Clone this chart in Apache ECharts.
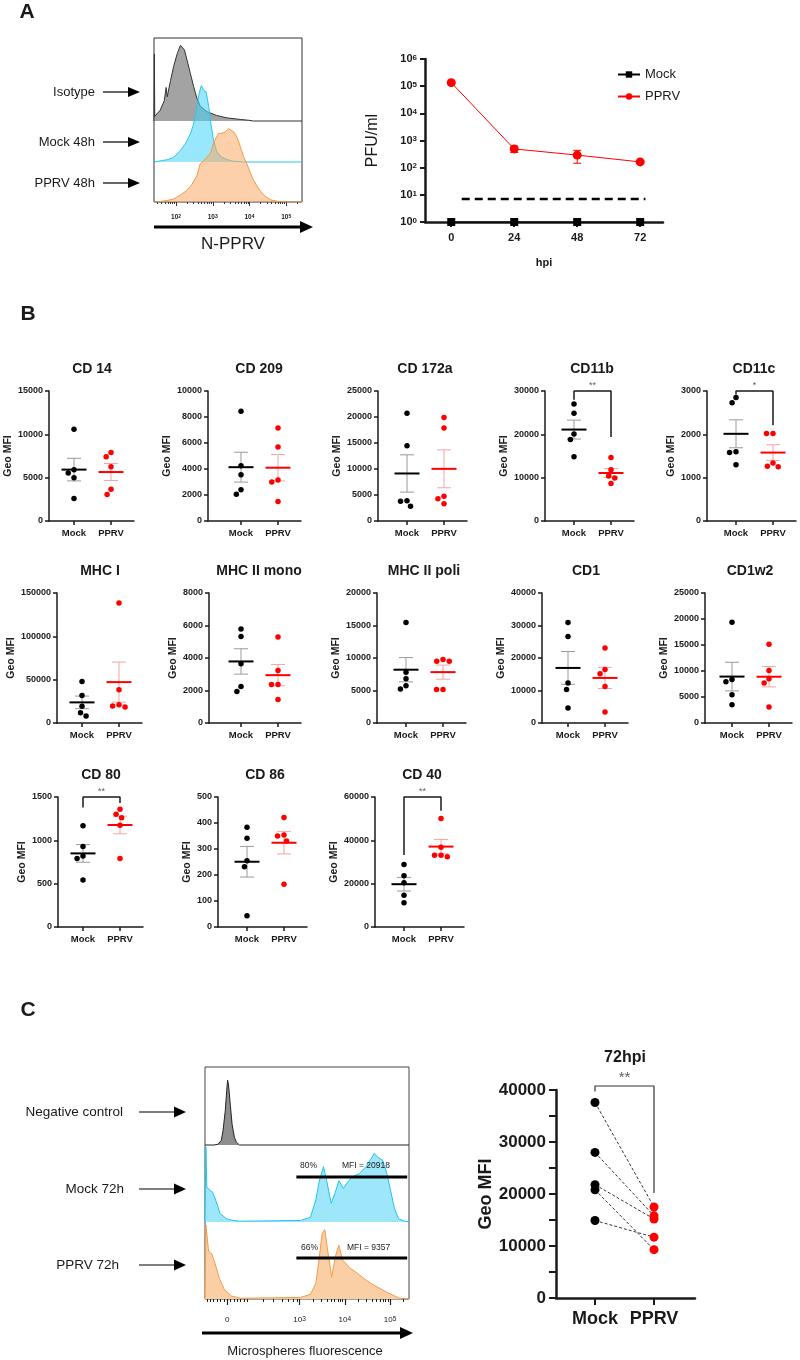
<!DOCTYPE html>
<html lang="en">
<head>
<meta charset="UTF-8">
<title>PPRV figure</title>
<style>
  * { margin: 0; padding: 0; }
  body { background: #fff; }
  #chart { width: 800px; height: 1360px; }
</style>
</head>
<body>
<div id="chart"></div>
<script src="https://cdn.jsdelivr.net/npm/echarts@6/dist/echarts.min.js"></script>
<script>
var FONT = '"Liberation Sans", Arial, sans-serif';

// ---- A left: N-PPRV histograms, [log10 fluorescence, % of mode]
var aHistLabels = ['Isotype', 'Mock 48h', 'PPRV 48h'];
var isotypeHist = [[1.40,0],[1.41,86],[1.42,6],[1.44,7],[1.57,14],[1.68,26],[1.73,43],[1.76,31],[1.85,52],[1.94,71],[2.03,86],[2.12,97],[2.16,99],[2.23,91],[2.30,78],[2.39,61],[2.48,44],[2.57,29],[2.66,19],[2.84,12],[3.11,7],[3.39,4],[3.75,2],[3.97,1],[4.11,0],[5.43,0]];
var mock48Hist = [[1.40,0],[1.42,1],[1.76,3],[1.94,6],[2.12,15],[2.25,23],[2.39,36],[2.48,49],[2.57,71],[2.63,88],[2.69,98],[2.75,92],[2.82,90],[2.89,71],[2.95,49],[3.02,28],[3.11,13],[3.25,6],[3.39,3],[3.57,1],[3.84,0],[5.43,0]];
var pprv48Hist = [[1.40,0],[1.48,0],[1.76,2],[1.94,4],[2.12,9],[2.30,15],[2.44,23],[2.57,34],[2.66,49],[2.75,53],[2.89,60],[2.95,64],[3.02,75],[3.10,83],[3.16,88],[3.25,88],[3.34,90],[3.43,94],[3.50,92],[3.57,90],[3.66,83],[3.75,71],[3.84,58],[3.93,49],[4.02,38],[4.11,28],[4.25,17],[4.38,9],[4.56,3],[4.75,1],[4.92,0],[5.43,0]];

// ---- A right: virus titre
var hpi = [0, 24, 48, 72];
var pfuMock = [1, 1, 1, 1];
var pfuPPRV = [135000, 490, 290, 163];
var pfuPPRVsem = [8000, 130, 145, 15];
var detectionLimit = 7;

// ---- B: surface markers, Geo MFI
var groups = ['Mock', 'PPRV'];
var markers = ['CD 14', 'CD 209', 'CD 172a', 'CD11b', 'CD11c', 'MHC I', 'MHC II mono', 'MHC II poli', 'CD1', 'CD1w2', 'CD 80', 'CD 86', 'CD 40'];
var markerMax = [15000, 10000, 25000, 30000, 3000, 150000, 8000, 20000, 40000, 25000, 1500, 500, 60000];
var markerStep = [5000, 2000, 5000, 10000, 1000, 50000, 2000, 5000, 10000, 5000, 500, 100, 20000];
var mockMFI = [
  [10600, 5900, 5550, 5000, 2600],
  [8450, 4250, 3550, 2400, 2050],
  [20700, 14450, 3900, 3800, 2850],
  [27000, 24850, 20050, 18800, 14800],
  [2850, 2730, 1600, 1580, 1300],
  [48000, 31800, 19200, 11900, 8050],
  [5790, 5320, 3640, 2250, 1940],
  [15450, 7800, 6800, 5730, 5220],
  [30900, 26600, 12280, 10330, 4600],
  [19370, 8380, 7930, 5430, 3520],
  [1168, 928, 820, 789, 541],
  [384, 341, 255, 232, 43],
  [28900, 23650, 20400, 14700, 11150]
];
var pprvMFI = [
  [7900, 7400, 6250, 3650, 3050],
  [7150, 5700, 3150, 3000, 1500],
  [19900, 17900, 4750, 4300, 3300],
  [14650, 11800, 10400, 9900, 8650],
  [2020, 2020, 1340, 1265, 1250],
  [138500, 38350, 21100, 19550, 18400],
  [5300, 3230, 2370, 2370, 1450],
  [9770, 9510, 9510, 5170, 5170],
  [23100, 16450, 15150, 11250, 3380],
  [15150, 10100, 8500, 7670, 3070],
  [1360, 1300, 1260, 1175, 789],
  [421, 354, 350, 331, 164],
  [50100, 36800, 33100, 33100, 32450]
];
var sigStars = ['', '', '', '**', '*', '', '', '', '', '', '**', '', '**'];
// bracket leg ends [mock side, pprv side]; the bracket top sits at the axis max
var sigLegs = [null, null, null, [28000, 19400], [2920, 2210], null, null, null, null, null, [1380, 1430], null, [33250, 53650]];

// ---- C left: microsphere uptake histograms
var cHistLabels = ['Negative control', 'Mock 72h', 'PPRV 72h'];
var negHist = [[0.91,0],[1.11,0],[1.20,1],[1.27,6],[1.31,19],[1.36,45],[1.39,70],[1.41,83],[1.43,77],[1.47,51],[1.51,26],[1.56,10],[1.60,4],[1.67,0],[5.42,0]];
var mock72Hist = [[0.91,0],[0.93,96],[0.95,45],[1.01,41],[1.08,38],[1.16,26],[1.24,11],[1.39,4],[1.54,2],[1.69,1],[3.02,2],[3.24,6],[3.36,28],[3.43,51],[3.53,71],[3.60,53],[3.70,24],[3.79,38],[3.87,53],[3.97,43],[4.06,51],[4.17,58],[4.32,62],[4.47,71],[4.58,81],[4.65,88],[4.73,83],[4.84,79],[4.93,62],[5.01,41],[5.10,17],[5.19,4],[5.32,1],[5.42,0]];
var pprv72Hist = [[0.91,0],[0.93,95],[0.99,61],[1.06,58],[1.13,46],[1.23,26],[1.34,12],[1.49,4],[1.69,1],[3.02,2],[3.24,6],[3.36,20],[3.43,50],[3.50,84],[3.56,89],[3.60,71],[3.71,28],[3.79,54],[3.87,69],[3.95,50],[3.99,48],[4.13,39],[4.28,33],[4.43,26],[4.58,20],[4.73,15],[4.95,8],[5.10,4],[5.21,1],[5.42,0]];
var gateRange = [2.93, 5.38];
var gatePercent = ['80%', '66%'];
var gateMFI = [20918, 9357];

// ---- C right: paired Geo MFI at 72 hpi
var pairedMock = [37600, 28000, 21800, 20800, 14900];
var pairedPPRV = [17500, 15800, 15200, 9300, 11700];
var pairedStars = '**';
var pairedLegs = [39700, 20200];

// ------------------------------------------------------------------
var chart = echarts.init(document.getElementById('chart'));
var grids = [], xAxes = [], yAxes = [], series = [], gfx = [];
var INK = '#1a1a1a';

function mean(a) { var s = 0; a.forEach(function (v) { s += v; }); return s / a.length; }
function sem(a) {
  var m = mean(a), s = 0;
  a.forEach(function (v) { s += (v - m) * (v - m); });
  return Math.sqrt(s / (a.length - 1)) / Math.sqrt(a.length);
}
function plain(v) { return String(v); }
// beeswarm: push overlapping dots sideways (offsets in group units, 37px per unit)
function swarm(vals, max) {
  var d = 6.5, pxPer = 130 / max, placed = [], off = [];
  var order = vals.map(function (v, i) { return i; }).sort(function (a, b) { return vals[b] - vals[a]; });
  order.forEach(function (id) {
    var y = vals[id] * pxPer, bans = [];
    placed.forEach(function (p) {
      var dy = Math.abs(p.y - y);
      if (dy < d) { var w = Math.sqrt(d * d - dy * dy); bans.push([p.x - w, p.x + w]); }
    });
    var cands = [0];
    bans.forEach(function (b) { cands.push(b[0], b[1]); });
    cands.sort(function (a, b) { return Math.abs(a) - Math.abs(b) || a - b; });
    var x = 0;
    for (var c = 0; c < cands.length; c++) {
      var ok = bans.every(function (b) { return cands[c] <= b[0] + 1e-6 || cands[c] >= b[1] - 1e-6; });
      if (ok) { x = cands[c]; break; }
    }
    placed.push({ x: x, y: y });
    off[id] = x / 37;
  });
  return off;
}
function errSeries(xi, yi, x, m, s, meanColor, semColor, meanHalf, capHalf) {
  return {
    type: 'custom', xAxisIndex: xi, yAxisIndex: yi, clip: false, z: 2, silent: true,
    data: [[x, m, s]],
    renderItem: function (params, api) {
      var c = api.coord([api.value(0), api.value(1)]);
      var hi = api.coord([api.value(0), api.value(1) + api.value(2)]);
      var lo = api.coord([api.value(0), api.value(1) - api.value(2)]);
      var st = { stroke: semColor, lineWidth: 1 };
      var kids = [
        { type: 'line', shape: { x1: c[0], y1: hi[1], x2: c[0], y2: lo[1] }, style: st },
        { type: 'line', shape: { x1: c[0] - capHalf, y1: hi[1], x2: c[0] + capHalf, y2: hi[1] }, style: st },
        { type: 'line', shape: { x1: c[0] - capHalf, y1: lo[1], x2: c[0] + capHalf, y2: lo[1] }, style: st }
      ];
      if (meanHalf > 0) kids.push({ type: 'line', shape: { x1: c[0] - meanHalf, y1: c[1], x2: c[0] + meanHalf, y2: c[1] }, style: { stroke: meanColor, lineWidth: 2 } });
      return { type: 'group', children: kids };
    }
  };
}
function supLabel(base, sup) {
  return {
    b: { fontSize: base, fontWeight: 'bold', color: INK, fontFamily: FONT },
    s: { fontSize: sup, fontWeight: 'bold', color: INK, fontFamily: FONT, verticalAlign: 'top' }
  };
}
function text(x, y, str, size, opts) {
  opts = opts || {};
  gfx.push({
    type: 'text', x: x, y: y, z: 100, silent: true,
    style: { text: str, fontSize: size, fontFamily: FONT, fontWeight: opts.bold ? 'bold' : 'normal',
      fill: opts.color || INK, align: opts.align || 'center', verticalAlign: 'middle' }
  });
}
function arrow(x1, x2, y, w, headLen, headHalf) {
  gfx.push({ type: 'line', silent: true, z: 100, shape: { x1: x1, y1: y, x2: x2 - headLen + 1, y2: y }, style: { stroke: '#000', lineWidth: w } });
  gfx.push({ type: 'polygon', silent: true, z: 100, shape: { points: [[x2 - headLen, y - headHalf], [x2, y], [x2 - headLen, y + headHalf]] }, style: { fill: '#000' } });
}
function histSeries(xi, yi, data, base, line, fill, z) {
  return {
    type: 'line', xAxisIndex: xi, yAxisIndex: yi, symbol: 'none', silent: true, z: z,
    data: data.map(function (p) { return [p[0], base + p[1] * 0.78]; }),
    lineStyle: { color: line, width: 1 },
    areaStyle: { color: fill, origin: base, opacity: 1 }
  };
}

// ====================== A left: histogram ======================
var minorA = [];
for (var d = 1; d <= 5; d++) for (var k = 2; k <= 9; k++) {
  var u = Math.log10(k * Math.pow(10, d));
  if (u > 1.4 && u < 5.43) minorA.push(u);
}
grids.push({ left: 154, top: 38, width: 148, height: 164, show: true, borderColor: '#333', borderWidth: 1, outerBoundsMode: 'none' });
xAxes.push({
  gridIndex: 0, type: 'value', position: 'bottom', min: 1.4, max: 5.43, splitLine: { show: false }, axisLine: { show: false },
  axisTick: { show: true, customValues: [2, 3, 4, 5], length: 4, lineStyle: { color: '#333' } },
  axisLabel: { customValues: [2, 3, 4, 5], margin: 12, formatter: function (v) { return '{b|10}{s|' + v + '}'; }, rich: supLabel(6.5, 5) }
});
xAxes.push({
  gridIndex: 0, type: 'value', position: 'bottom', min: 1.4, max: 5.43, splitLine: { show: false }, axisLine: { show: false },
  axisTick: { show: true, customValues: minorA, length: 2, lineStyle: { color: '#333' } }, axisLabel: { show: false }
});
yAxes.push({ gridIndex: 0, type: 'value', min: 0, max: 164, show: false });
series.push(histSeries(0, 0, isotypeHist, 81, '#333', '#a3a3a3', 2));
series.push(histSeries(0, 0, mock48Hist, 40, '#2cc6ef', 'rgba(70,212,246,0.55)', 3));
series.push(histSeries(0, 0, pprv48Hist, 0, '#f49a45', 'rgba(250,170,100,0.55)', 4));
[92, 142, 183].forEach(function (y, i) {
  text(95, y, aHistLabels[i], 13, { align: 'right' });
  arrow(103, 140, y, 1.2, 12, 5);
});
arrow(154, 313, 227, 3, 13, 6);
text(233, 244, 'N-PPRV', 17);

// ====================== A right: PFU/ml ======================
grids.push({ left: 425, top: 59, width: 238, height: 163, outerBoundsMode: 'none' });
xAxes.push({
  gridIndex: 1, type: 'value', min: -10, max: 80.7, splitLine: { show: false },
  axisLine: { onZero: false, lineStyle: { color: INK, width: 2.5 } },
  axisTick: { customValues: hpi, length: 5, lineStyle: { color: INK, width: 2 } },
  axisLabel: { customValues: hpi, margin: 10, fontSize: 11, fontWeight: 'bold', color: INK },
  name: 'hpi', nameLocation: 'middle', nameGap: 35, nameTextStyle: { fontSize: 11, fontWeight: 'bold', color: INK }
});
var decades = [1, 10, 100, 1000, 10000, 100000, 1000000];
yAxes.push({
  gridIndex: 1, type: 'log', logBase: 10, min: 1, max: 1000000, splitLine: { show: false },
  axisLine: { show: true, onZero: false, lineStyle: { color: INK, width: 2.5 } },
  axisTick: { show: true, customValues: decades, length: 5, lineStyle: { color: INK, width: 2 } },
  axisLabel: { customValues: decades, margin: 8, formatter: function (v) { return '{b|10}{s|' + Math.round(Math.log10(v)) + '}'; }, rich: supLabel(11, 8) },
  name: 'PFU/ml', nameLocation: 'middle', nameGap: 44, nameTextStyle: { fontSize: 16, color: INK }
});
series.push({
  name: 'Mock', type: 'line', xAxisIndex: 2, yAxisIndex: 1, clip: false, z: 4,
  data: hpi.map(function (h, i) { return [h, pfuMock[i]]; }),
  symbol: 'rect', symbolSize: 8, itemStyle: { color: '#000' }, lineStyle: { color: '#000', width: 1 }
});
series.push({
  name: 'PPRV', type: 'line', xAxisIndex: 2, yAxisIndex: 1, clip: false, z: 4,
  data: hpi.map(function (h, i) { return [h, pfuPPRV[i]]; }),
  symbol: 'circle', symbolSize: 9, itemStyle: { color: '#ff0000' }, lineStyle: { color: '#ff0000', width: 1 }
});
hpi.forEach(function (h, i) { series.push(errSeries(2, 1, h, pfuPPRV[i], pfuPPRVsem[i], '#f00', '#f00', 0, 4)); });
series.push({
  type: 'line', xAxisIndex: 2, yAxisIndex: 1, symbol: 'none', silent: true,
  data: [[4, detectionLimit], [74, detectionLimit]], lineStyle: { color: '#000', width: 2.5, type: [8, 5] }
});

// ====================== B: dot plots ======================
var bAxisX = [49, 208, 378, 545, 707, 57, 209, 377, 542, 705, 58, 218, 375];
var bMockX = [74, 241, 407, 574, 736, 82, 241, 406, 568, 732, 83, 247, 404];
var bRowTop = [391, 593, 797];
markers.forEach(function (name, i) {
  var g = grids.length, xi = xAxes.length, yi = yAxes.length;
  var top = bRowTop[Math.floor(i / 5)], left = bAxisX[i], mx = bMockX[i], max = markerMax[i];
  grids.push({ left: left, top: top, width: mx - left + 60, height: 130, outerBoundsMode: 'none' });
  xAxes.push({
    gridIndex: g, type: 'value', min: 1 - (mx - left) / 37, max: 2 + 23 / 37, splitLine: { show: false },
    axisLine: { onZero: false, lineStyle: { color: INK, width: 1.5 } },
    axisTick: { customValues: [1, 2], length: 4, lineStyle: { color: INK, width: 1.5 } },
    axisLabel: { customValues: [1, 2], margin: 7, fontSize: 9.5, fontWeight: 'bold', color: INK,
      formatter: function (v) { return groups[Math.round(v) - 1]; } }
  });
  var digits = String(max).length;
  yAxes.push({
    gridIndex: g, type: 'value', min: 0, max: max, interval: markerStep[i], splitLine: { show: false },
    axisLine: { show: true, onZero: false, lineStyle: { color: INK, width: 1.5 } },
    axisTick: { show: true, length: 4, lineStyle: { color: INK, width: 1.5 } },
    axisLabel: { margin: 6, fontSize: 9, fontWeight: 'bold', color: INK, formatter: plain },
    name: 'Geo MFI', nameLocation: 'middle', nameGap: 9 + 5.2 * digits,
    nameTextStyle: { fontSize: 10.5, fontWeight: 'bold', color: INK }
  });
  var mo = swarm(mockMFI[i], max), po = swarm(pprvMFI[i], max);
  series.push(errSeries(xi, yi, 1, mean(mockMFI[i]), sem(mockMFI[i]), '#000', '#9a9a9a', 12.5, 7));
  series.push(errSeries(xi, yi, 2, mean(pprvMFI[i]), sem(pprvMFI[i]), '#ff0000', '#f5a3a3', 12.5, 7));
  series.push({
    type: 'scatter', xAxisIndex: xi, yAxisIndex: yi, symbolSize: 5.5, z: 3, silent: true,
    itemStyle: { color: '#000', opacity: 1 }, data: mockMFI[i].map(function (v, j) { return [1 + mo[j], v]; })
  });
  series.push({
    type: 'scatter', xAxisIndex: xi, yAxisIndex: yi, symbolSize: 5.5, z: 3, silent: true,
    itemStyle: { color: '#ff0000', opacity: 1 }, data: pprvMFI[i].map(function (v, j) { return [2 + po[j], v]; })
  });
  if (sigLegs[i]) {
    series.push({
      type: 'line', xAxisIndex: xi, yAxisIndex: yi, symbol: 'none', clip: false, silent: true,
      data: [[1, sigLegs[i][0]], [1, max], [2, max], [2, sigLegs[i][1]]], lineStyle: { color: INK, width: 1.5 }
    });
    series.push({
      type: 'scatter', xAxisIndex: xi, yAxisIndex: yi, symbolSize: 0, clip: false, silent: true,
      data: [[1.5, max]], label: { show: true, position: 'top', distance: 1, formatter: sigStars[i], fontSize: 9, color: '#333' }
    });
  }
  text(mx + 18, top - 22, name, 14, { bold: true });
});

// ====================== C left: histogram ======================
var minorC = [];
for (var u0 = 0.95; u0 < 1.9; u0 += 0.075) minorC.push(u0);
[2.2, 2.42, 2.62, 2.76, 2.87, 2.96].forEach(function (v) { minorC.push(v); });
for (var d2 = 3; d2 <= 5; d2++) for (var k2 = 2; k2 <= 9; k2++) {
  var u2 = Math.log10(k2 * Math.pow(10, d2));
  if (u2 < 5.42) minorC.push(u2);
}
var gC = grids.length, xC = xAxes.length, yC = yAxes.length;
grids.push({ left: 205, top: 1067, width: 204, height: 232, show: true, borderColor: '#444', borderWidth: 1, outerBoundsMode: 'none' });
xAxes.push({
  gridIndex: gC, type: 'value', position: 'bottom', min: 0.91, max: 5.42, splitLine: { show: false }, axisLine: { show: false },
  axisTick: { show: true, customValues: [1.4, 3, 4, 5], length: 6, lineStyle: { color: '#222', width: 1.2 } },
  axisLabel: { customValues: [1.4, 3, 4, 5], margin: 17,
    formatter: function (v) { return v < 2 ? '{b|0}' : '{b|10}{s|' + v + '}'; }, rich: {
      b: { fontSize: 8, color: INK, fontFamily: FONT },
      s: { fontSize: 6.5, color: INK, fontFamily: FONT, verticalAlign: 'top' } } }
});
xAxes.push({
  gridIndex: gC, type: 'value', position: 'bottom', min: 0.91, max: 5.42, splitLine: { show: false }, axisLine: { show: false },
  axisTick: { show: true, customValues: minorC, length: 3, lineStyle: { color: '#222' } }, axisLabel: { show: false }
});
yAxes.push({ gridIndex: gC, type: 'value', min: 0, max: 232, show: false });
series.push(histSeries(xC, yC, negHist, 154, '#222', '#8e8e8e', 2));
series.push(histSeries(xC, yC, mock72Hist, 77, '#1cc4ef', '#9ee7fb', 3));
series.push(histSeries(xC, yC, pprv72Hist, 0, '#f59a45', '#fbcfa6', 4));
[122, 41].forEach(function (gy, i) {
  series.push({
    type: 'line', xAxisIndex: xC, yAxisIndex: yC, symbol: 'none', silent: true, z: 5,
    data: [[gateRange[0], gy], [gateRange[1], gy]], lineStyle: { color: '#000', width: 3 }
  });
});
text(300, 1166, gatePercent[0], 8.5, { align: 'left' });
text(342, 1166, 'MFI = ' + gateMFI[0], 8.5, { align: 'left' });
text(301, 1248, gatePercent[1], 8.5, { align: 'left' });
text(347, 1248, 'MFI = ' + gateMFI[1], 8.5, { align: 'left' });
[[123, 1112], [124, 1189], [119, 1265]].forEach(function (p, i) {
  text(p[0], p[1], cHistLabels[i], 13.5, { align: 'right' });
  arrow(139, 186, p[1], 1.2, 12, 5.5);
});
arrow(202, 413, 1333, 3, 13, 6);
text(305, 1351, 'Microspheres fluorescence', 13);

// ====================== C right: paired ======================
var gP = grids.length, xP = xAxes.length, yP = yAxes.length;
grids.push({ left: 556, top: 1090, width: 139, height: 208, outerBoundsMode: 'none' });
xAxes.push({
  gridIndex: gP, type: 'value', min: 1 - 39 / 59, max: 2 + 41 / 59, splitLine: { show: false },
  axisLine: { onZero: false, lineStyle: { color: INK, width: 2.5 } },
  axisTick: { customValues: [1, 2], length: 7, lineStyle: { color: INK, width: 2 } },
  axisLabel: { customValues: [1, 2], margin: 12, fontSize: 18, fontWeight: 'bold', color: INK,
    formatter: function (v) { return groups[Math.round(v) - 1]; } }
});
yAxes.push({
  gridIndex: gP, type: 'value', min: 0, max: 40000, interval: 10000, splitLine: { show: false },
  axisLine: { show: true, onZero: false, lineStyle: { color: INK, width: 2.5 } },
  axisTick: { show: true, length: 7, lineStyle: { color: INK, width: 2 } },
  minorTick: { show: true, splitNumber: 2, length: 7, lineStyle: { color: INK, width: 2 } },
  axisLabel: { margin: 10, fontSize: 17, fontWeight: 'bold', color: INK, formatter: plain },
  name: 'Geo MFI', nameLocation: 'middle', nameGap: 58, nameTextStyle: { fontSize: 18, fontWeight: 'bold', color: INK }
});
pairedMock.forEach(function (m, i) {
  series.push({
    type: 'line', xAxisIndex: xP, yAxisIndex: yP, symbol: 'none', silent: true, z: 2,
    data: [[1, m], [2, pairedPPRV[i]]], lineStyle: { color: '#333', width: 1, type: [3, 2] }
  });
});
series.push({ type: 'scatter', xAxisIndex: xP, yAxisIndex: yP, symbolSize: 9, z: 3, itemStyle: { color: '#000', opacity: 1 },
  data: pairedMock.map(function (v) { return [1, v]; }) });
series.push({ type: 'scatter', xAxisIndex: xP, yAxisIndex: yP, symbolSize: 9, z: 3, itemStyle: { color: '#ff0000', opacity: 1 },
  data: pairedPPRV.map(function (v) { return [2, v]; }) });
series.push({
  type: 'line', xAxisIndex: xP, yAxisIndex: yP, symbol: 'none', clip: false, silent: true,
  data: [[1, pairedLegs[0]], [1, 40770], [2, 40770], [2, pairedLegs[1]]], lineStyle: { color: '#333', width: 1.2 }
});
series.push({
  type: 'scatter', xAxisIndex: xP, yAxisIndex: yP, symbolSize: 0, clip: false, silent: true,
  data: [[1.5, 40770]], label: { show: true, position: 'top', distance: 1, formatter: pairedStars, fontSize: 15, color: '#333' }
});
text(625, 1058, '72hpi', 16, { bold: true });

// panel letters
text(27, 12, 'A', 21, { bold: true });
text(28, 314, 'B', 21, { bold: true });
text(28, 1010, 'C', 21, { bold: true });

chart.setOption({
  animation: false,
  textStyle: { fontFamily: FONT },
  legend: {
    data: ['Mock', 'PPRV'], orient: 'vertical', left: 612, top: 63, itemWidth: 22, itemHeight: 8, itemGap: 9,
    textStyle: { fontSize: 13, color: INK }
  },
  grid: grids,
  xAxis: xAxes,
  yAxis: yAxes,
  series: series,
  graphic: { elements: gfx }
});
</script>
</body>
</html>
